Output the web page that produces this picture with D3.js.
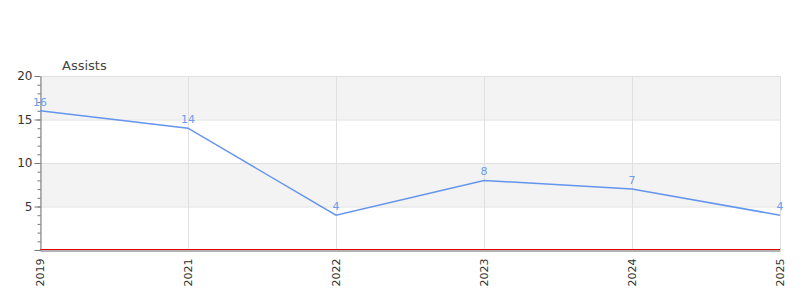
<!DOCTYPE html>
<html>
<head>
<meta charset="utf-8">
<script src="https://cdn.jsdelivr.net/npm/d3@7"></script>
<style>
  body { margin: 0; background: #fff; }
  svg { display: block; font-family: "DejaVu Sans", sans-serif; }
</style>
</head>
<body>
<svg id="chart" width="800" height="300"></svg>
<script>
// chart data
var years = ["2019", "2021", "2022", "2023", "2024", "2025"];
var assists = [16, 14, 4, 8, 7, 4];
var yTicks = [5, 10, 15, 20];
var title = "Assists";

var margin = { top: 76, right: 20, bottom: 50, left: 40 };
var width = 800 - margin.left - margin.right;
var height = 300 - margin.top - margin.bottom;

var svg = d3.select("#chart");
var g = svg.append("g").attr("transform", "translate(" + margin.left + "," + margin.top + ")");

var x = d3.scalePoint().domain(years).range([0, width]);
var y = d3.scaleLinear().domain([0, 20]).range([height, 0]);

// shaded bands (5-10, 15-20)
var bands = [[5, 10], [15, 20]];
g.selectAll("rect.band").data(bands).enter().append("rect")
    .attr("class", "band")
    .attr("x", 0)
    .attr("width", width)
    .attr("y", function (d) { return y(d[1]); })
    .attr("height", function (d) { return y(d[0]) - y(d[1]); })
    .attr("fill", "#f3f3f3");

// grid lines
g.selectAll("line.hgrid").data(yTicks).enter().append("line")
    .attr("x1", 0).attr("x2", width)
    .attr("y1", function (d) { return y(d) + 0.5; })
    .attr("y2", function (d) { return y(d) + 0.5; })
    .attr("stroke", "#e0e0e0");

g.selectAll("line.vgrid").data(years).enter().append("line")
    .attr("x1", function (d) { return x(d) + 0.5; })
    .attr("x2", function (d) { return x(d) + 0.5; })
    .attr("y1", 0).attr("y2", height)
    .attr("stroke", "#e0e0e0");

// red baseline at zero
g.append("line")
    .attr("x1", 0).attr("x2", width)
    .attr("y1", y(0) - 0.5).attr("y2", y(0) - 0.5)
    .attr("stroke", "#e00000")
    .attr("stroke-width", 1);

// y axis: minor ticks then major ticks with labels
var yMinor = g.append("g").attr("transform", "translate(0.5,0)")
    .call(d3.axisLeft(y).tickValues(d3.range(1, 20)).tickSize(3).tickFormat(""));
yMinor.select(".domain").remove();
yMinor.selectAll("line").attr("stroke", "#777");

var yAxis = g.append("g").attr("transform", "translate(0.5,0)")
    .call(d3.axisLeft(y).tickValues([0].concat(yTicks)).tickSize(6).tickSizeOuter(0)
        .tickFormat(function (d) { return d === 0 ? "" : d; }));
yAxis.select(".domain").attr("stroke", "#777");
yAxis.selectAll("line").attr("stroke", "#777");
yAxis.selectAll("text").attr("fill", "#333").attr("font-size", 12)
    .attr("font-family", "DejaVu Sans, sans-serif").attr("x", -8);

// x axis
var xAxis = g.append("g").attr("transform", "translate(0," + (height + 0.5) + ")")
    .call(d3.axisBottom(x).tickSize(0).tickSizeOuter(0));
xAxis.select(".domain").attr("stroke", "#666").attr("stroke-width", 1);
xAxis.selectAll("text")
    .attr("fill", "#333")
    .attr("font-size", 11)
    .attr("font-family", "DejaVu Sans, sans-serif")
    .attr("transform", "rotate(-90)")
    .attr("text-anchor", "end")
    .attr("x", -8)
    .attr("y", 0)
    .attr("dy", "0.35em");

// title
g.append("text")
    .attr("x", 22)
    .attr("y", -6)
    .attr("fill", "#444")
    .attr("font-size", 13)
    .text(title);

// line
var line = d3.line()
    .x(function (d, i) { return x(years[i]); })
    .y(function (d) { return y(d); });

g.append("path")
    .datum(assists)
    .attr("fill", "none")
    .attr("stroke", "#6495ed")
    .attr("stroke-width", 1.5)
    .attr("d", line);

// value labels
g.selectAll("text.val").data(assists).enter().append("text")
    .attr("class", "val")
    .attr("x", function (d, i) { return x(years[i]); })
    .attr("y", function (d) { return y(d) - 5; })
    .attr("text-anchor", "middle")
    .attr("fill", "#6f9be8")
    .attr("font-size", 11)
    .text(function (d) { return d; });
</script>
</body>
</html>
